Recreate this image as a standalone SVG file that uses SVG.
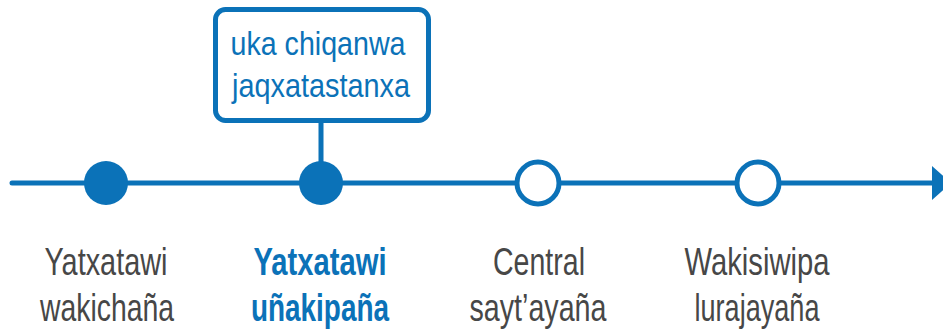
<svg xmlns="http://www.w3.org/2000/svg" width="943" height="329" viewBox="0 0 943 329">
<style>
.ln{stroke:#0B72B8;stroke-width:5;fill:none;stroke-linecap:round}
.full{fill:#0B72B8}
.open{fill:#fff;stroke:#0B72B8;stroke-width:5}
.lbl{font-family:"Liberation Sans",Arial,sans-serif;font-size:39px;fill:#474747;text-anchor:middle}
.cur{fill:#0B72B8;font-weight:bold}
.box{fill:#fff;stroke:#0B72B8;stroke-width:5}
.bt{font-family:"Liberation Sans",Arial,sans-serif;font-size:34px;fill:#0B72B8;text-anchor:middle}
</style>
<g id="connectors">
<line class="ln" x1="12" y1="183" x2="936" y2="183"/>
<polygon class="full" points="932,166 951,183 932,200"/>
<line class="ln" x1="321" y1="121" x2="321" y2="165" stroke-linecap="butt"/>
</g>
<g id="callout">
<rect class="box" x="215.5" y="9.5" width="213" height="111" rx="10"/>
<text class="bt" x="318" y="55" textLength="175" lengthAdjust="spacingAndGlyphs">uka chiqanwa</text>
<text class="bt" x="321" y="97" textLength="178" lengthAdjust="spacingAndGlyphs">jaqxatastanxa</text>
</g>
<g id="node1">
<circle class="full" cx="106" cy="183" r="22"/>
<text class="lbl" x="106" y="275" textLength="123" lengthAdjust="spacingAndGlyphs">Yatxatawi</text>
<text class="lbl" x="107" y="321" textLength="134" lengthAdjust="spacingAndGlyphs">wakichaña</text>
</g>
<g id="node2">
<circle class="full" cx="321" cy="183" r="22"/>
<text class="lbl cur" x="320" y="275" textLength="133" lengthAdjust="spacingAndGlyphs">Yatxatawi</text>
<text class="lbl cur" x="320" y="321" textLength="138" lengthAdjust="spacingAndGlyphs">uñakipaña</text>
</g>
<g id="node3">
<circle class="open" cx="538" cy="183" r="21"/>
<text class="lbl" x="539" y="275" textLength="92" lengthAdjust="spacingAndGlyphs">Central</text>
<text class="lbl" x="538" y="321" textLength="137" lengthAdjust="spacingAndGlyphs">sayt’ayaña</text>
</g>
<g id="node4">
<circle class="open" cx="758" cy="183" r="21"/>
<text class="lbl" x="757" y="275" textLength="145" lengthAdjust="spacingAndGlyphs">Wakisiwipa</text>
<text class="lbl" x="757" y="321" textLength="125" lengthAdjust="spacingAndGlyphs">lurajayaña</text>
</g>
</svg>
